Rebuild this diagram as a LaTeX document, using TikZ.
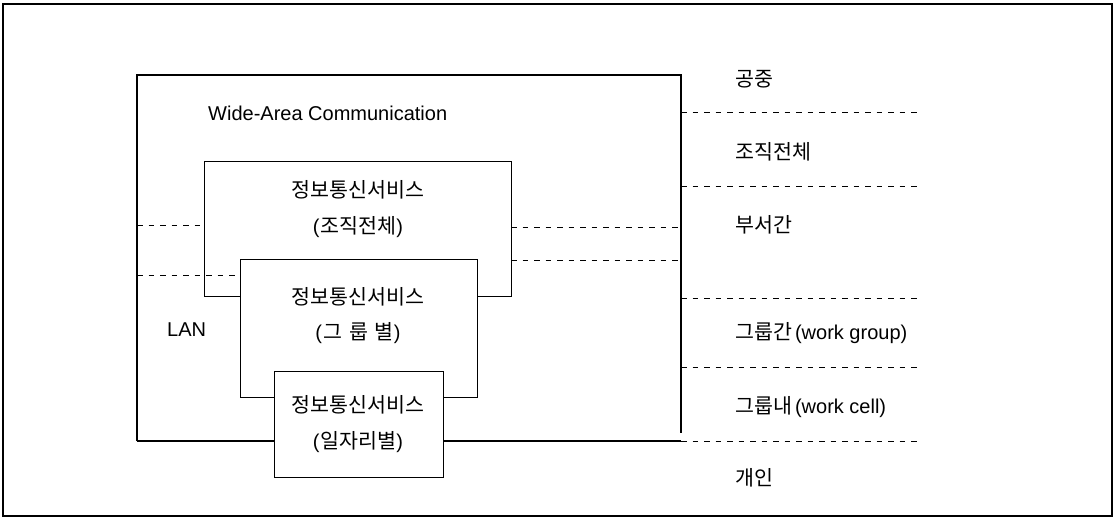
\documentclass[tikz,border=0pt]{standalone}
\usepackage{fontspec}
\setmainfont{Liberation Sans}
\newfontfamily\kr[Scale=1.03]{Noto Sans CJK KR}
\begin{document}
\begin{tikzpicture}[x=1pt,y=-1pt,
  frameline/.style={line width=1.7pt},
  solidline/.style={line width=1.2pt},
  dashline/.style={line width=1pt, dash pattern=on 5.5pt off 6pt},
  svcbox/.style={draw, line width=1.2pt, fill=white, inner sep=0pt, anchor=north west},
  txt/.style={inner sep=0pt, font=\fontsize{20}{24}\selectfont},
  lbl/.style={txt, anchor=west}]
\useasboundingbox (0,0) rectangle (1120,519);
% outer frame
\draw[frameline] (3,4) rectangle (1112,516);
% wide-area box (open at lower right)
\coordinate (wanSW) at (137,441);
\coordinate (wanNW) at (137,75);
\coordinate (wanNE) at (681,75);
\coordinate (wanE) at (681,433);
\coordinate (wanSE) at (681,441);
\coordinate (endSE) at (918,441);
\draw[solidline] (wanSW) -- (wanNW) -- (wanNE) -- (wanE);
\draw[solidline] (wanSW) -- (wanSE);
\draw[dashline] (wanSE) -- (endSE);
% left dash to org box
\coordinate (lA) at (137,225);
\coordinate (lA2) at (204,225);
\draw[dashline] (lA) -- (lA2);
% org box
\node[svcbox, minimum width=307pt, minimum height=135pt] (org) at (204,161) {};
% dashes through / beside org box
\coordinate (lB) at (137,275);
\coordinate (lB2) at (240,275);
\draw[dashline] (lB) -- (lB2);
\coordinate (rA) at (511,227);
\coordinate (rA2) at (681,227);
\coordinate (rB) at (511,260);
\coordinate (rB2) at (681,260);
\draw[dashline] (rA) -- (rA2);
\draw[dashline] (rB) -- (rB2);
% group box
\node[svcbox, minimum width=237pt, minimum height=138pt] (grp) at (240,259) {};
% cell box
\node[svcbox, minimum width=169pt, minimum height=106pt] (cell) at (274,371) {};
% right level dashes
\foreach \y/\n in {112/a,186/b,298/c,367/d}{
  \coordinate (d\n1) at (681,\y);
  \coordinate (d\n2) at (918,\y);
  \draw[dashline] (d\n1) -- (d\n2);
}
% texts
\node[lbl] (wide) at (208,113) {Wide-Area Communication};
\node[lbl] (lan) at (167,330) {LAN};
\node[txt] (orgA) at (358,190) {{\kr 정보통신서비스}};
\node[txt] (orgB) at (358,227) {(\hspace{1pt}{\kr 조직전체})};
\node[txt] (grpA) at (358,297) {{\kr 정보통신서비스}};
\node[txt] (grpB) at (358,333) {(\hspace{1pt}{\kr 그}\hspace{7pt}{\kr 룹}\hspace{7pt}{\kr 별})};
\node[txt] (cellA) at (358,405) {{\kr 정보통신서비스}};
\node[txt] (cellB) at (358,442) {(\hspace{1pt}{\kr 일자리별})};
\node[lbl] (l1) at (735,79) {{\kr 공중}};
\node[lbl] (l2) at (735,152) {{\kr 조직전체}};
\node[lbl] (l3) at (735,225) {{\kr 부서간}};
\node[lbl] (l4) at (735,333) {{\kr 그룹간}\hspace{3pt}(work group)};
\node[lbl] (l5) at (735,407) {{\kr 그룹내}\hspace{3pt}(work cell)};
\node[lbl] (l6) at (735,478) {{\kr 개인}};
\end{tikzpicture}
\end{document}
